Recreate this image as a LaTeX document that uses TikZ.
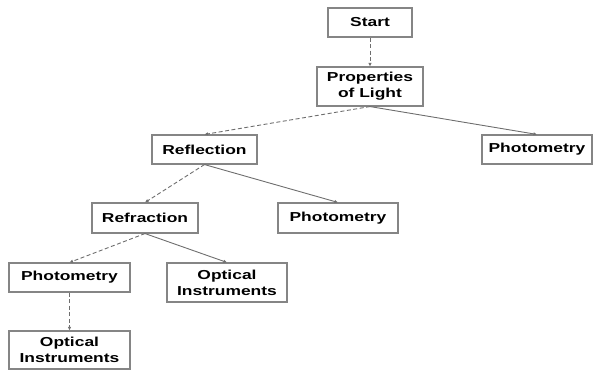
\documentclass[tikz,border=0pt]{standalone}
\usepackage{fontspec}
\setmainfont[FakeStretch=1.34]{Liberation Sans}
\usetikzlibrary{arrows.meta}
\definecolor{boxline}{HTML}{858585}
\definecolor{edgeline}{HTML}{6E6E6E}
\tikzset{
  topic/.style={draw=boxline, line width=1.1pt, fill=white, align=center,
    inner sep=0pt, font=\fontsize{13}{16}\selectfont\bfseries, text=black},
  link/.style={draw=edgeline, line width=0.9pt,
    -{Latex[length=3.5pt,width=3.5pt]}},
  linkd/.style={link, dash pattern=on 4pt off 2.5pt},
}
\begin{document}
\begin{tikzpicture}[x=1pt,y=-1pt]
  \useasboundingbox (0,0) rectangle (593,370);
  % topic boxes
  \node[topic, minimum width=84pt, minimum height=29pt] (start) at (370,22.5) {Start};
  \node[topic, minimum width=106pt, minimum height=39pt] (props) at (370,86.5) {Properties\\of Light};
  \node[topic, minimum width=110pt, minimum height=29pt] (photR) at (537,149.5) {Photometry};
  \node[topic, minimum width=105pt, minimum height=29pt] (refl) at (204.5,149.5) {Reflection};
  \node[topic, minimum width=106pt, minimum height=30pt] (refr) at (145,218) {Refraction};
  \node[topic, minimum width=120pt, minimum height=30pt] (photM) at (338,218) {Photometry};
  \node[topic, minimum width=121pt, minimum height=29pt] (photL) at (69.5,277.5) {Photometry};
  \node[topic, minimum width=120pt, minimum height=39pt] (optM) at (227,282.5) {Optical\\Instruments};
  \node[topic, minimum width=121pt, minimum height=38pt] (optB) at (69.5,350) {Optical\\Instruments};
  % connectors
  \draw[linkd] (start.south) -- (props.north);
  \draw[linkd] (props.south) -- (refl.north);
  \draw[link]  (props.south) -- (photR.north);
  \draw[linkd] (refl.south) -- (refr.north);
  \draw[link]  (refl.south) -- (photM.north);
  \draw[linkd] (refr.south) -- (photL.north);
  \draw[link]  (refr.south) -- (optM.north);
  \draw[linkd] (photL.south) -- (optB.north);
\end{tikzpicture}
\end{document}
